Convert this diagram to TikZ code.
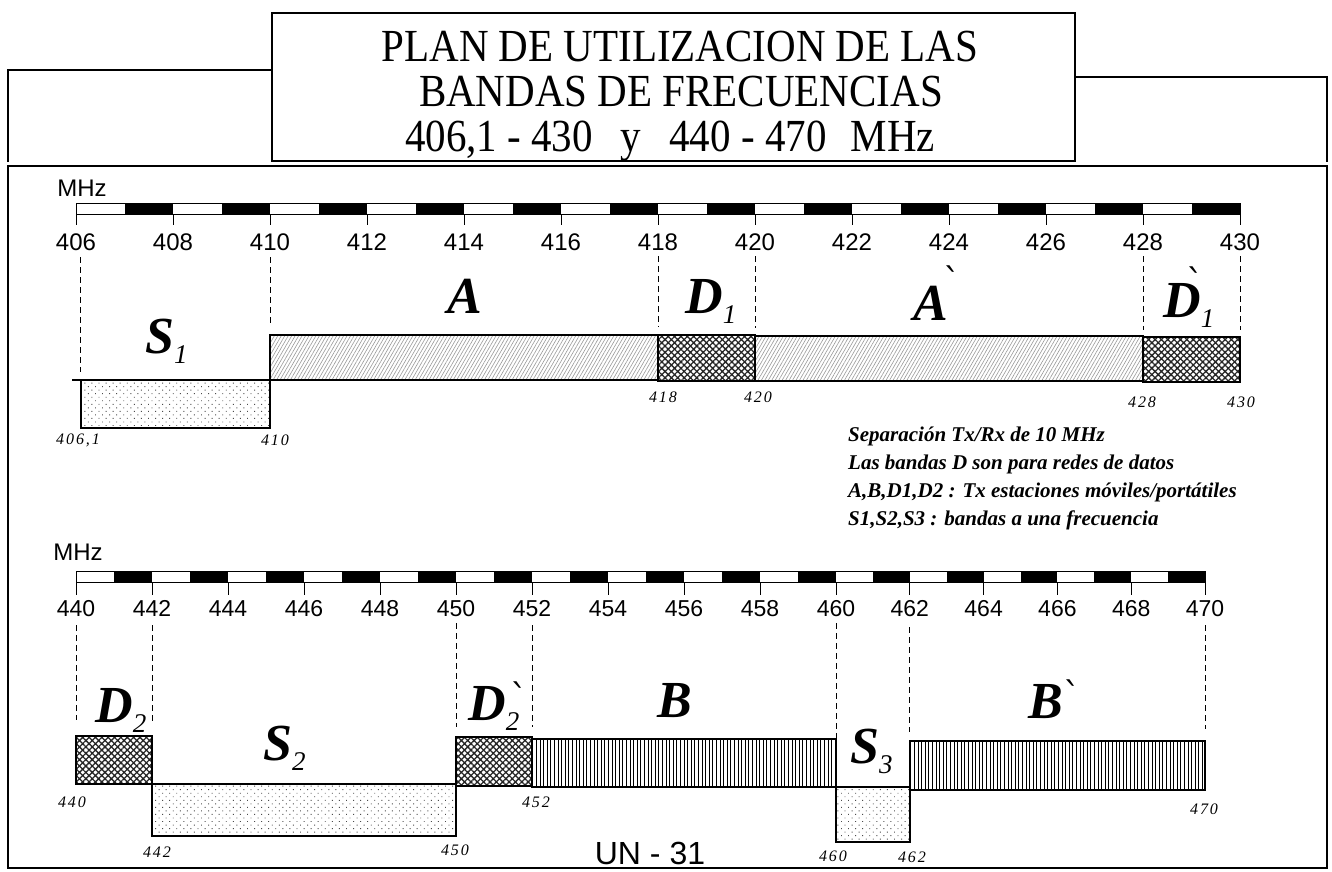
\documentclass[tikz,border=0pt]{standalone}
\usepackage{fontspec}
\setmainfont{Liberation Serif}
\setsansfont{Liberation Sans}
\newfontfamily\djvfont{DejaVu Serif}
\newfontfamily\lblfont{Liberation Serif}[LetterSpace=12]
\usetikzlibrary{patterns,patterns.meta}
\newcommand\blab[1]{{\fontsize{52}{52}\selectfont\bfseries\itshape #1}}
\newcommand\bsub[1]{\raisebox{-10pt}{\fontsize{27}{27}\selectfont\mdseries\itshape #1}}
\newcommand\bacc[2]{\rlap{\kern#1\raisebox{#2}{\djvfont\fontsize{36}{36}\selectfont\char"02CB}}}
\newcommand\ttlscale[1]{\scalebox{1}[1.12]{#1}}
\begin{document}
\begin{tikzpicture}[x=1pt,y=-1pt,
  frame/.style={line width=1.6pt},
  band/.style={draw=black,line width=1.8pt},
  sband/.style={band,pattern={Dots[distance=5pt,radius=0.65pt,angle=45]},pattern color=black!70},
  aband/.style={band,pattern={Lines[angle=60,distance=3pt,line width=0.6pt]},pattern color=black!40},
  dband/.style={band,pattern={Hatch[angle=45,distance=4.5pt,line width=1.3pt]},pattern color=black!85},
  bband/.style={band,pattern={Lines[angle=90,distance=3.6pt,line width=1pt]},pattern color=black},
  guide/.style={dash pattern=on 6pt off 4pt,line width=0.8pt},
  tickmark/.style={line width=0.9pt},
  scalelbl/.style={font=\sffamily\fontsize{24}{24}\selectfont,inner sep=0,anchor=base},
  scalelblb/.style={font=\sffamily\fontsize{23}{23}\selectfont,inner sep=0,anchor=base},
  mhzlbl/.style={font=\sffamily\fontsize{24}{24}\selectfont,inner sep=0},
  freq/.style={font=\lblfont\itshape\fontsize{16}{16}\selectfont,inner sep=0},
  bl/.style={inner sep=0,anchor=base west},
  note/.style={font=\bfseries\itshape\fontsize{21}{21}\selectfont,inner sep=0,anchor=base west},
  ttl/.style={font=\fontsize{41}{41}\selectfont,inner sep=0,anchor=base},
]
\useasboundingbox (0,0) rectangle (1332,871);
\fill[white] (0,0) rectangle (1332,871);

% frames
\draw[frame] (8,162) -- (8,70) -- (300,70);
\draw[frame] (1050,77) -- (1327,77) -- (1327,162);
\draw[frame] (8,166) rectangle (1327,868);
\draw[frame,fill=white] (272,13) rectangle (1075,161);
\node[ttl] (title1) at (680,61) {\ttlscale{PLAN DE UTILIZACION DE LAS}};
\node[ttl] (title2) at (681,106) {\ttlscale{BANDAS DE FRECUENCIAS}};
\node[ttl] (title3) at (670,151) {\ttlscale{406,1 - 430\hspace{28pt}y\hspace{28pt}440 - 470\hspace{24pt}MHz}};

% ---------- top ruler ----------
\node[mhzlbl] (mhz1) at (82,188) {MHz};
\foreach \i in {406,...,429}{
  \pgfmathtruncatemacro\oddq{mod(\i,2)}
  \ifnum\oddq=1
    \fill ({76+(\i-406)*48.5},203) rectangle ({76+(\i-405)*48.5},214);
  \fi}
\draw[line width=0.7pt] (76,203) rectangle (1240,214);
\foreach \f in {406,408,...,430}{
  \pgfmathsetmacro\xa{76+(\f-406)*48.5}
  \draw[tickmark] (\xa,214) -- (\xa,225);
  \node[scalelbl] (tl\f) at (\xa,250) {\f};}

% guides top
\draw[guide] (80.85,257) -- (80.85,372);
\draw[guide] (270,257) -- (270,323);
\draw[guide] (658,256) -- (658,327);
\draw[guide] (755,256) -- (755,328);
\draw[guide] (1143,256) -- (1143,330);
\draw[guide] (1240,256) -- (1240,330);

% bands top
\draw[band] (72,380) -- (80.85,380);
\draw[sband] (80.85,380) rectangle (270,428);
\draw[aband] (270,335) rectangle (658,380);
\draw[dband] (658,335) rectangle (755,381);
\draw[aband] (755,336) rectangle (1143,381);
\draw[dband] (1143,337) rectangle (1240,382);

\node[bl] (lS1) at (145,353) {\blab{S}\bsub{1}};
\node[bl] (lA) at (447,313) {\blab{A}};
\node[bl] (lD1) at (685,313) {\blab{D}\bsub{1}};
\node[bl] (lAp) at (913,320) {\blab{A}\bacc{-4pt}{26pt}};
\node[bl] (lD1p) at (1163,317) {\blab{D}\bacc{-14pt}{22pt}\bsub{1}};

\node[freq] (f4061) at (78,440) {406,1};
\node[freq] (f410) at (275,440) {410};
\node[freq] (f418) at (663,397) {418};
\node[freq] (f420) at (758,397) {420};
\node[freq] (f428) at (1142,402) {428};
\node[freq] (f430) at (1241,402) {430};

% notes
\node[note] (n1) at (848,441) {Separación Tx/Rx de 10 MHz};
\node[note] (n2) at (848,469) {Las bandas D son para redes de datos};
\node[note] (n3) at (848,497) {A,B,D1,D2 : Tx estaciones móviles/portátiles};
\node[note] (n4) at (848,525) {S1,S2,S3 : bandas a una frecuencia};

% ---------- bottom ruler ----------
\node[mhzlbl] (mhz2) at (78,552) {MHz};
\foreach \i in {440,...,469}{
  \pgfmathtruncatemacro\oddq{mod(\i,2)}
  \pgfmathsetmacro\xa{\i<=460 ? 76+(\i-440)*38 : 836+(\i-460)*36.9}
  \pgfmathsetmacro\xb{\i<460 ? 76+(\i+1-440)*38 : 836+(\i+1-460)*36.9}
  \ifnum\oddq=1
    \fill (\xa,571) rectangle (\xb,582);
  \fi}
\draw[line width=0.7pt] (76,571) rectangle (1205,582);
\foreach \f in {440,442,...,470}{
  \pgfmathsetmacro\xa{\f<=460 ? 76+(\f-440)*38 : 836+(\f-460)*36.9}
  \draw[tickmark] (\xa,582) -- (\xa,595);
  \node[scalelblb] (bl\f) at (\xa,616) {\f};}

% guides bottom
\draw[guide] (76,625) -- (76,720);
\draw[guide] (152,625) -- (152,723);
\draw[guide] (456,623) -- (456,727);
\draw[guide] (532,625) -- (532,727);
\draw[guide] (836,623) -- (836,738);
\draw[guide] (909.8,627) -- (909.8,732);
\draw[guide] (1205,625) -- (1205,729);

% bands bottom
\draw[dband] (76,736) rectangle (152,784);
\draw[sband] (152,784) rectangle (456,836);
\draw[dband] (456,737) rectangle (532,786);
\draw[bband] (532,739) rectangle (836,787);
\draw[sband] (836,787) rectangle (909.8,842);
\draw[bband] (909.8,741) rectangle (1205,790);

\node[bl] (lD2) at (95,722) {\blab{D}\bsub{2}};
\node[bl] (lS2) at (263,760) {\blab{S}\bsub{2}};
\node[bl] (lD2p) at (468,720) {\blab{D}\bacc{5pt}{10pt}\bsub{2}};
\node[bl] (lB) at (657,717) {\blab{B}};
\node[bl] (lS3) at (850,763) {\blab{S}\bsub{3}};
\node[bl] (lBp) at (1028,718) {\blab{B}\bacc{1pt}{10pt}};

\node[freq] (f440) at (72,802) {440};
\node[freq] (f452) at (536,802) {452};
\node[freq] (f442) at (157,852) {442};
\node[freq] (f450) at (455,850) {450};
\node[freq] (f460) at (833,856) {460};
\node[freq] (f462) at (912,857) {462};
\node[freq] (f470) at (1204,809) {470};

\node[font=\sffamily\fontsize{32}{32}\selectfont,inner sep=0] (un31) at (650,853) {UN - 31};
\end{tikzpicture}
\end{document}
